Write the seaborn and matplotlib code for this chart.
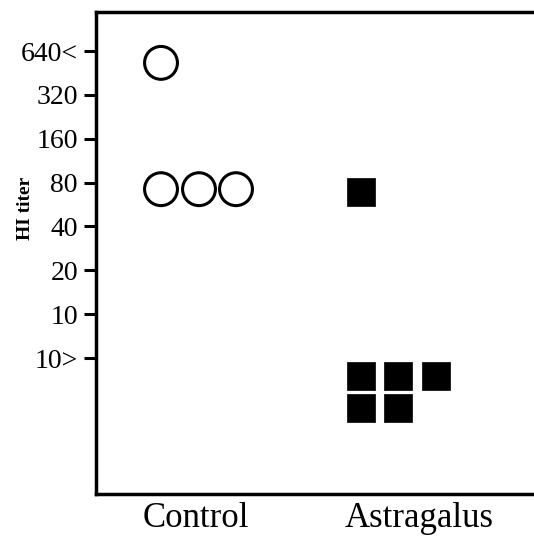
import matplotlib
matplotlib.use("Agg")
import matplotlib.pyplot as plt
import seaborn as sns
import pandas as pd

# Titer levels on an ordinal log2 scale: 10> = 0, 10 = 1, 20 = 2, ... 640< = 7
tick_levels = [0, 1, 2, 3, 4, 5, 6, 7]
tick_labels = ["10>", "10", "20", "40", "80", "160", "320", "640<"]

groups = ["Control", "Astragalus"]
group_label_x = [0.175, 1.29]

# Control (open circles): column position and level
control_x = [0.0, 0.0, 0.19, 0.375]
control_y = [6.73, 3.85, 3.85, 3.85]

# Astragalus (filled squares)
astra_x = [1.0, 1.0, 1.185, 1.375, 1.0, 1.185]
astra_y = [3.78, -0.41, -0.41, -0.41, -1.14, -1.14]

sns.set_theme(style="white")
plt.rcParams["font.family"] = ["Liberation Serif", "DejaVu Serif"]

fig = plt.figure(figsize=(5.34, 5.36), dpi=100)
ax = fig.add_axes([96 / 534, 42 / 536, (534 - 96) / 534, 482 / 536])

df_c = pd.DataFrame({"x": control_x, "y": control_y})
df_a = pd.DataFrame({"x": astra_x, "y": astra_y})

sns.scatterplot(data=df_c, x="x", y="y", ax=ax, marker="o", s=560,
                facecolor="none", edgecolor="black", linewidth=2.2, zorder=3)
sns.scatterplot(data=df_a, x="x", y="y", ax=ax, marker="s", s=400,
                color="black", edgecolor="black", linewidth=0.5, zorder=3)

ax.set_xlim(-0.325, 1.865)
ax.set_ylim(-3.10, 7.89)

ax.set_yticks(tick_levels)
ax.set_yticklabels(tick_labels, fontsize=20)
ax.set_xticks(group_label_x)
ax.set_xticklabels(groups, fontsize=25)
ax.tick_params(axis="y", direction="out", length=9, width=2.2, color="black",
               left=True, pad=4, labelcolor="black")
ax.tick_params(axis="x", length=0, pad=6, labelcolor="black")

ax.set_xlabel("")
ax.set_ylabel("HI titer", fontsize=14, fontweight="bold", color="black")
ax.yaxis.set_label_coords(-0.142, 0.593)

for side in ["left", "bottom", "top"]:
    ax.spines[side].set_visible(True)
    ax.spines[side].set_color("black")
    ax.spines[side].set_linewidth(2.5)
ax.spines["right"].set_visible(False)

fig.savefig("out.png", dpi=100)
